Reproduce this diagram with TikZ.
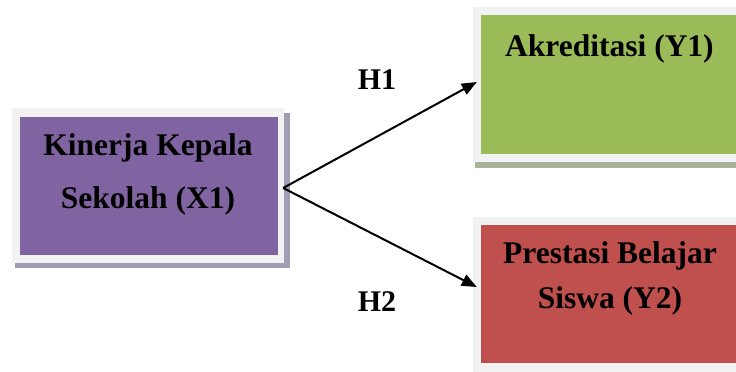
\documentclass[tikz,border=0pt]{standalone}
\usepackage{fontspec}
\setmainfont{Liberation Serif}
\usetikzlibrary{arrows.meta}
\definecolor{purpfill}{HTML}{8064A2}
\definecolor{greenfill}{HTML}{9BBB59}
\definecolor{redfill}{HTML}{C0504D}
\definecolor{framegray}{HTML}{F2F2F2}
\definecolor{purpshadow}{HTML}{A39CB3}
\definecolor{greenshadow}{HTML}{A8B398}
\tikzset{
  boxtext/.style={font=\fontsize{31.5}{40}\selectfont\bfseries, anchor=base, inner sep=0pt, text=black},
  hlabel/.style={font=\fontsize{30}{36}\selectfont\bfseries, anchor=base, inner sep=0pt, text=black},
  arr/.style={draw=black, line width=2pt, -{Triangle[length=15pt,width=12pt]}},
  innerbox/.style={rectangle, inner sep=0pt, draw=none}
}
\begin{document}
\begin{tikzpicture}[x=1pt,y=-1pt]
\useasboundingbox (0,0) rectangle (736,372);
% left box: shadow, frame
\fill[purpshadow] (15,113) rectangle (290,268);
\fill[framegray] (12,108) rectangle (284,263);
\node[innerbox, fill=purpfill, minimum width=258pt, minimum height=138pt] (x1) at (149,186) {};
\node[boxtext] (x1a) at (148,155) {Kinerja Kepala};
\node[boxtext] (x1b) at (148,208) {Sekolah (X1)};
% green box
\fill[greenshadow] (475,12) rectangle (745,168);
\fill[framegray] (473,7) rectangle (745,162);
\node[innerbox, fill=greenfill, minimum width=264pt, minimum height=139pt] (y1) at (613,84.5) {};
\node[boxtext] (y1a) at (609.5,56) {Akreditasi (Y1)};
% red box
\fill[framegray] (473,217) rectangle (745,380);
\node[innerbox, fill=redfill, minimum width=264pt, minimum height=138pt] (y2) at (613,294) {};
\node[boxtext] (y2a) at (610,263) {Prestasi Belajar};
\node[boxtext] (y2b) at (610,308) {Siswa (Y2)};
% labels
\node[hlabel] (h1) at (377,89) {H1};
\node[hlabel] (h2) at (377,311) {H2};
% arrows
\coordinate (src) at ([xshift=5pt,yshift=-2pt]x1.east);
\draw[arr] (src) -- ([xshift=-4pt,yshift=2.5pt]y1.west);
\draw[arr] (src) -- ([xshift=-4pt,yshift=7pt]y2.west);
\end{tikzpicture}
\end{document}
